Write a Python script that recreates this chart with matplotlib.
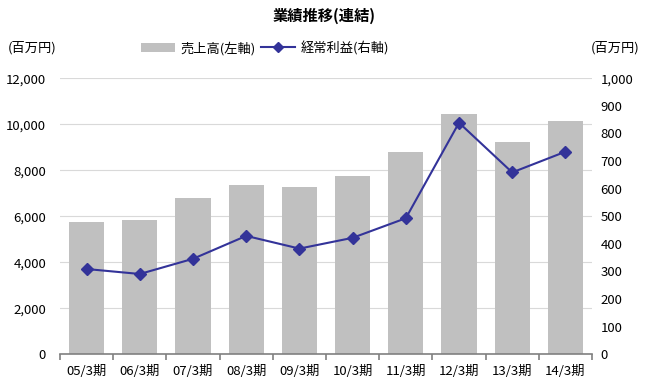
import matplotlib
matplotlib.use("Agg")
import matplotlib.pyplot as plt
from matplotlib.lines import Line2D
from matplotlib.patches import Patch
import numpy as np

plt.rcParams['font.family'] = ['Noto Sans CJK JP', 'DejaVu Sans']

categories = ["05/3期", "06/3期", "07/3期", "08/3期", "09/3期", "10/3期", "11/3期", "12/3期", "13/3期", "14/3期"]
sales = [5740, 5840, 6810, 7350, 7280, 7750, 8810, 10450, 9230, 10150]
ordinary_profit = [309, 291, 346, 429, 383, 422, 493, 839, 659, 734]
left_ticks = [0, 2000, 4000, 6000, 8000, 10000, 12000]
right_ticks = list(range(0, 1001, 100))

fig = plt.figure(figsize=(6.47, 3.86), dpi=100)
ax = fig.add_axes([60/647, 1-354.3/386, 532/647, 276/386])
x = np.arange(len(categories))
ax.bar(x, sales, width=0.66, color='#c0c0c0', zorder=2)
ax.set_xlim(-0.5, len(categories)-0.5)
ax.set_ylim(0, 12000)
ax.set_yticks(left_ticks)
ax.set_yticklabels([f"{v:,}" for v in left_ticks], fontsize=9.5)
ax.yaxis.grid(True, color='#d9d9d9', linewidth=0.8, zorder=0)
ax.set_axisbelow(True)
for s in ['top', 'right', 'left']:
    ax.spines[s].set_visible(False)
ax.spines['bottom'].set_color('#808080')
ax.spines['bottom'].set_linewidth(1.2)
ax.tick_params(axis='y', length=0, pad=10)
ax.set_xticks(x)
ax.set_xticklabels(categories, fontsize=9.5)
ax.tick_params(axis='x', length=0, pad=8)
ax.set_xticks(np.arange(-0.5, len(categories), 1.0), minor=True)
ax.tick_params(axis='x', which='minor', length=4, color='#808080', width=1.2, direction='out')

ax2 = ax.twinx()
ax2.plot(x, ordinary_profit, color='#333399', linewidth=1.5, marker='D', markersize=6.5, zorder=5)
ax2.set_ylim(0, 1000)
ax2.set_yticks(right_ticks)
ax2.set_yticklabels([f"{v:,}" for v in right_ticks], fontsize=9.5)
for s in ['top', 'right', 'left', 'bottom']:
    ax2.spines[s].set_visible(False)
ax2.tick_params(axis='y', length=0, pad=6)

fig.text(324/647, 1-16/386, "業績推移(連結)", ha='center', va='center', fontsize=11, fontweight='bold')
fig.text(8/647, 1-48/386, "(百万円)", ha='left', va='center', fontsize=9.5)
fig.text(640/647, 1-48/386, "(百万円)", ha='right', va='center', fontsize=9.5)

handles = [Patch(facecolor='#c0c0c0', edgecolor='none'),
           Line2D([0], [0], color='#333399', linewidth=1.5, marker='D', markersize=5)]
fig.legend(handles, ["売上高(左軸)", "経常利益(右軸)"], loc='center', bbox_to_anchor=(265/647, 1-48/386),
           ncol=2, frameon=False, fontsize=9.5, handlelength=2.6, handletextpad=0.4, columnspacing=0.4)

fig.savefig("out.png", dpi=100)
